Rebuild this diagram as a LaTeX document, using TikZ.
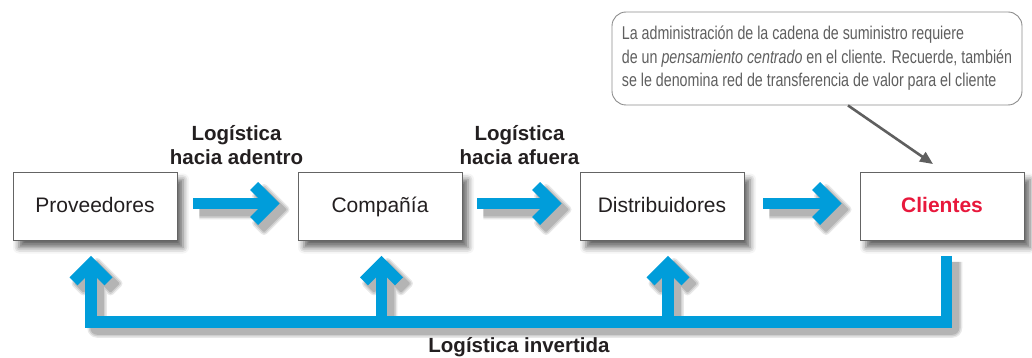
\documentclass[tikz,border=0pt]{standalone}
\usepackage{fontspec}
\setmainfont{Liberation Sans}
\newfontfamily\condfont[FakeStretch=0.77]{Liberation Sans}
\usetikzlibrary{calc,arrows.meta,shadows.blur}
\definecolor{flowblue}{RGB}{0,157,218}
\definecolor{clired}{RGB}{232,24,60}
\definecolor{inkdark}{RGB}{35,31,32}
\definecolor{boxline}{RGB}{100,100,100}
\definecolor{notegray}{RGB}{95,95,95}
\definecolor{noteline}{RGB}{140,140,140}
\definecolor{pointergray}{RGB}{95,95,95}

\newcommand\flowarrows{%
  \draw[shaft] (f1s) -- ($(f1t)+(-10,0)$);
  \pic at (f1t) {chev};
  \draw[shaft] (f2s) -- ($(f2t)+(-10,0)$);
  \pic at (f2t) {chev};
  \draw[shaft] (f3s) -- ($(f3t)+(-10,0)$);
  \pic at (f3t) {chev};
  \draw[shaft] (ret) -- (ret |- base) -- (u1t |- base) -- ($(u1t)+(0,10)$);
  \pic[rotate=90] at (u1t) {chev};
  \draw[shaft] (u2t |- base) -- ($(u2t)+(0,10)$);
  \pic[rotate=90] at (u2t) {chev};
  \draw[shaft] (u3t |- base) -- ($(u3t)+(0,10)$);
  \pic[rotate=90] at (u3t) {chev};
}

\begin{document}
\begin{tikzpicture}[x=1pt,y=-1pt,
  stage/.style={draw=boxline, line width=0.9pt, fill=white, minimum width=164pt,
    minimum height=68pt, inner sep=0pt, text height=15pt, text depth=4pt,
    font=\fontsize{21}{25}\selectfont, text=inkdark,
    blur shadow={shadow xshift=6pt, shadow yshift=-7pt, shadow blur radius=6pt, shadow opacity=60}},
  flowlbl/.style={font=\bfseries\fontsize{20.5}{24}\selectfont, text=inkdark, align=center},
  shaft/.style={draw=flowblue, line width=11.5pt, line join=miter, line cap=butt},
  headfill/.style={fill=flowblue},
  chev/.pic={\path[headfill] (0,0) -- (-21.5,-21.5) -- (-29.5,-13.5) -- (-16,0) -- (-29.5,13.5) -- (-21.5,21.5) -- cycle;},
]
\path[use as bounding box] (0,0) rectangle (1032,358);

% stages
\node[stage] (prov) at (95,206.5) {Proveedores};
\node[stage] (comp) at (380,206.5) {Compañía};
\node[stage] (dist) at (662,206.5) {Distribuidores};
\node[stage, font=\bfseries\fontsize{21}{25}\selectfont, text=clired] (cli) at (942,206.5) {Clientes};

% connector end points
\coordinate (f1s) at ($(prov.east)+(16,-3)$);
\coordinate (f1t) at ($(comp.west)+(-18,-3)$);
\coordinate (f2s) at ($(comp.east)+(15,-3)$);
\coordinate (f2t) at ($(dist.west)+(-18,-3)$);
\coordinate (f3s) at ($(dist.east)+(19,-3)$);
\coordinate (f3t) at ($(cli.west)+(-18,-3)$);
\coordinate (u1t) at ($(prov.south)+(-4,15)$);
\coordinate (u2t) at ($(comp.south)+(1.5,15)$);
\coordinate (u3t) at ($(dist.south)+(6,15)$);
\coordinate (ret) at ($(cli.south)+(4.5,15)$);
\coordinate (base) at (0,322);

% soft shadows of the blue arrows
\foreach \w/\e/\op in {19.5/8/0.09, 16.5/5/0.11, 13.5/2/0.13} {
  \begin{scope}[transform canvas={xshift=6pt, yshift=-6pt}, transparency group, opacity=\op,
      shaft/.style={draw=black, line width=\w pt, line join=round},
      headfill/.style={fill=black, draw=black, line width=\e pt, line join=round}]
    \flowarrows
  \end{scope}
}
\flowarrows

% labels
\node[flowlbl] (inlbl) at ($(f1s)!0.5!(f1t)+(0,-58)$) {Logística\\hacia adentro};
\node[flowlbl] (outlbl) at ($(f2s)!0.5!(f2t)+(0,-58)$) {Logística\\hacia afuera};
\node[flowlbl] (revlbl) at (519,347) {Logística invertida};

% callout
\node[draw=noteline, line width=0.9pt, rounded corners=14pt, fill=white,
  minimum width=410pt, minimum height=93pt, align=left, text=notegray,
  font=\condfont\fontsize{18.5}{23.5}\selectfont] (note) at (817,58.5)
  {La administración de la cadena de suministro requiere\\
   de un \textit{pensamiento centrado} en el cliente. Recuerde, también\\
   se le denomina red de transferencia de valor para el cliente};
\draw[draw=pointergray, line width=2.6pt, -{Triangle[length=13pt, width=11pt]}]
  ($(note.south)+(31,0)$) -- ($(cli.north)+(-9,-8)$);
\end{tikzpicture}
\end{document}
